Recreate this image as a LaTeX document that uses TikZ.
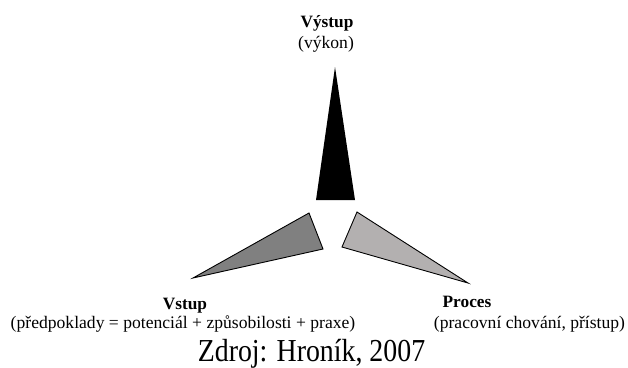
\documentclass[tikz,border=0pt]{standalone}
\usepackage{fontspec}
\setmainfont{Liberation Serif}
\begin{document}
\begin{tikzpicture}[x=1pt,y=-1pt,
  label/.style={inner sep=0pt,anchor=base,font=\fontsize{17.6}{20}\selectfont},
  title/.style={inner sep=0pt,anchor=base,font=\fontsize{17.3}{20}\selectfont\bfseries},
  wedge/.style={draw=black,line width=0.9pt,line join=miter}]
  \useasboundingbox (0,0) rectangle (628,367);

  % three wedges pointing outwards
  \fill[black] (316,200) -- (335,67) -- (355,200) -- cycle;
  \filldraw[wedge,fill=black!50] (309,213) -- (323,249) -- (193,278) -- cycle;
  \filldraw[wedge,fill={rgb,255:red,179;green,176;blue,176}] (357,212) -- (342,247) -- (468,283) -- cycle;

  % labels
  \node[title] (out) at (327,27) {Výstup};
  \node[label] (outd) at (326,48) {(výkon)};
  \node[title] (in) at (185,309) {Vstup};
  \node[label] (ind) at (183,328) {(předpoklady = potenciál + způsobilosti + praxe)};
  \node[title] (proc) at (467,307) {Proces};
  \node[label] (procd) at (529.5,328) {(pracovní chování, přístup)};
  \node[label,font=\fontsize{32}{36}\selectfont,xscale=0.87] (src) at (311.5,361) {Zdroj: Hroník, 2007};
\end{tikzpicture}
\end{document}
